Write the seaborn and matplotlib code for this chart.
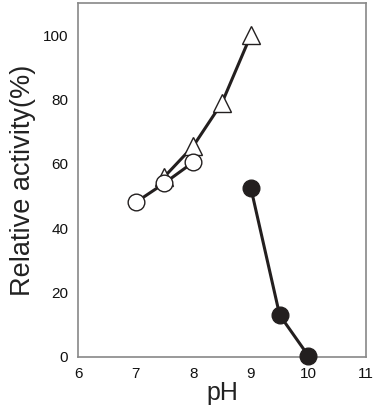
import pandas as pd
import matplotlib.pyplot as plt
import seaborn as sns

# pH series
ph_circle = [7.0, 7.5, 8.0]
act_circle = [48, 54, 60.5]

ph_triangle = [7.5, 8.0, 8.5, 9.0]
act_triangle = [56, 65.5, 79, 100]

ph_filled = [9.0, 9.5, 10.0]
act_filled = [52.5, 13, 0.3]

x_ticks = [6, 7, 8, 9, 10, 11]
y_ticks = [0, 20, 40, 60, 80, 100]

sns.set_style('white')
plt.rcParams['font.family'] = ['Liberation Sans', 'DejaVu Sans']

fig = plt.figure(figsize=(3.77, 4.15), dpi=100)
ax = fig.add_axes([0.207, 0.140, 0.764, 0.853])

line_col = '#231f1f'

# triangles first so circles sit on top
sns.lineplot(x=ph_triangle, y=act_triangle, ax=ax, color=line_col, linewidth=2.2,
             marker='^', markersize=13, markerfacecolor='white',
             markeredgecolor=line_col, markeredgewidth=1.0, zorder=3)
sns.lineplot(x=ph_circle, y=act_circle, ax=ax, color=line_col, linewidth=2.2,
             marker='o', markersize=12, markerfacecolor='white',
             markeredgecolor=line_col, markeredgewidth=1.0, zorder=4)
sns.lineplot(x=ph_filled, y=act_filled, ax=ax, color=line_col, linewidth=2.2,
             marker='o', markersize=12, markerfacecolor=line_col,
             markeredgecolor=line_col, markeredgewidth=1.0, zorder=5, clip_on=False)

ax.set_xlim(6, 11)
ax.set_ylim(0, 110)
ax.set_xticks(x_ticks)
ax.set_yticks(y_ticks)
ax.tick_params(axis='both', direction='out', length=4, width=1, color='#888888',
               labelsize=11, labelcolor='#111111', pad=3)

for s in ax.spines.values():
    s.set_color('#888888')
    s.set_linewidth(1.2)

ax.set_xlabel('pH', fontsize=18, color='#222222', labelpad=0)
ax.set_ylabel('Relative activity(%)', fontsize=19.5, color='#222222', labelpad=5)

plt.savefig('out.png', dpi=100)
plt.close()
